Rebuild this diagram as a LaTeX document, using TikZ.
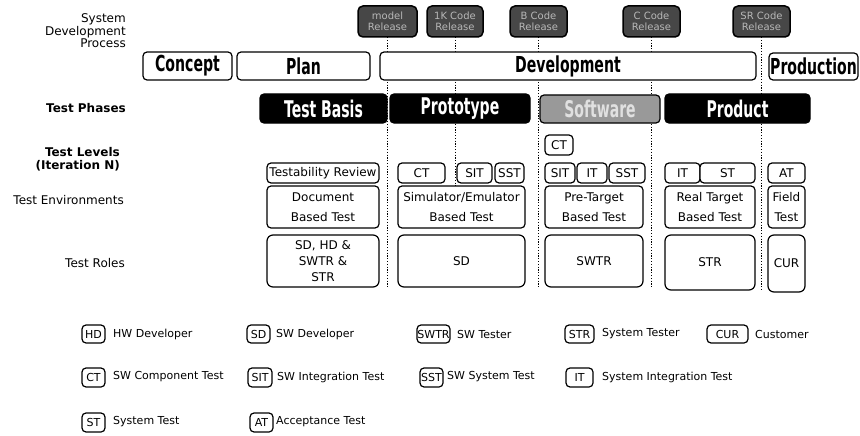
\documentclass[tikz,border=0pt]{standalone}
\usepackage{fontspec}
\setmainfont{DejaVu Sans}
\newfontfamily\condA[FakeStretch=0.64]{DejaVu Sans}
\newfontfamily\condB[FakeStretch=0.61]{DejaVu Sans}
\usetikzlibrary{calc}

% box given by its corners: style, name, x1, y1, x2, y2, text
\newcommand\boxat[7]{%
  \pgfmathsetmacro\bxw{#5-#3}\pgfmathsetmacro\bxh{#6-#4}%
  \node[#1,minimum width=\bxw pt,minimum height=\bxh pt] (#2) at ({(#3+#5)/2},{(#4+#6)/2}) {#7};}

\tikzset{
  base/.style={draw=black, line width=1.2pt, rounded corners=4pt, inner sep=0pt,
    outer sep=0pt, align=center, fill=white},
  proc/.style={base, font=\condA\bfseries\fontsize{22}{22}\selectfont},
  phase/.style={base, fill=black, text=white, font=\condB\bfseries\fontsize{23}{23}\selectfont},
  soft/.style={phase, fill=black!40, text=black!12},
  rel/.style={base, line width=1.5pt, rounded corners=5pt, fill=black!72, text=black!28,
    font=\fontsize{10}{11}\selectfont},
  lvl/.style={base, font=\fontsize{12}{13}\selectfont},
  env/.style={base, font=\fontsize{12}{20}\selectfont},
  role/.style={base, rounded corners=6pt, font=\fontsize{12}{16}\selectfont},
  legbox/.style={base, font=\fontsize{11}{12}\selectfont},
  lab/.style={anchor=east, align=right, inner sep=0pt, font=\fontsize{12}{12.5}\selectfont},
  labb/.style={lab, font=\bfseries\fontsize{12}{12.5}\selectfont},
  legtxt/.style={anchor=west, inner sep=0pt, font=\fontsize{11}{12}\selectfont},
  rline/.style={line width=1pt, dash pattern=on 1.2pt off 1.6pt}
}

\begin{document}
\begin{tikzpicture}[x=1pt, y=-1pt]
\useasboundingbox[fill=white] (0,0) rectangle (860,436);

% row captions
\node[lab]  (sdp)  at (126,31)  {System\\Development\\Process};
\node[labb] (tph)  at (126,108) {Test Phases};
\node[labb] (tlv)  at (120,159) {Test Levels\\(Iteration N)};
\node[lab]  (tenv) at (124,200) {Test Environments};
\node[lab]  (trol) at (125,263) {Test Roles};

% releases
\boxat{rel}{r1}{358}{6}{417}{37}{model\\Release}
\boxat{rel}{r2}{427}{6}{483}{37}{1K Code\\Release}
\boxat{rel}{r3}{510}{6}{567}{37}{B Code\\Release}
\boxat{rel}{r4}{623}{6}{680}{37}{C Code\\Release}
\boxat{rel}{r5}{733}{6}{790}{37}{SR Code\\Release}

% release milestones running down the chart
\coordinate (e1) at (387.5,287);
\coordinate (e2) at (455,188);
\coordinate (e3) at (538.5,287);
\coordinate (e4) at (651.5,287);
\coordinate (e5) at (761.5,291);
\draw[rline] (r1.south) -- (e1);
\draw[rline] (r2.south) -- (e2);
\draw[rline] (r3.south) -- (e3);
\draw[rline] (r4.south) -- (e4);
\draw[rline] (r5.south) -- (e5);

% system development process
\boxat{proc}{concept}{143}{52}{232}{80}{Concept}
\boxat{proc}{plan}{237}{52}{370}{80}{Plan}
\boxat{proc}{dev}{380}{52}{756}{80}{Development}
\boxat{proc}{prodn}{769}{53}{858}{80}{Production}

% test phases
\boxat{phase}{basis}{260}{94}{387}{123}{Test Basis}
\boxat{phase}{proto}{390}{94}{530}{123}{Prototype}
\boxat{soft}{softw}{540}{95}{660}{123}{Software}
\boxat{phase}{product}{665}{94}{810}{123}{Product}

% test basis column
\boxat{lvl}{tbr}{267}{163}{379}{183}{Testability Review}
\boxat{env}{tbe}{267}{186}{379}{228}{Document\\Based Test}
\boxat{role}{tbo}{267}{235}{379}{287}{SD, HD \&\\SWTR \&\\STR}

% prototype column
\boxat{lvl}{pct}{398}{163}{445}{183}{CT}
\boxat{lvl}{psit}{457}{163}{492}{183}{SIT}
\boxat{lvl}{psst}{495}{163}{524}{183}{SST}
\boxat{env}{pe}{398}{186}{525}{228}{Simulator/Emulator\\Based Test}
\boxat{role}{po}{398}{235}{525}{287}{SD}

% software column
\boxat{lvl}{sct}{545}{135}{573}{155}{CT}
\boxat{lvl}{ssit}{545}{163}{575}{183}{SIT}
\boxat{lvl}{sit}{577}{163}{607}{183}{IT}
\boxat{lvl}{ssst}{609}{163}{645}{183}{SST}
\boxat{env}{se}{545}{186}{643}{228}{Pre-Target\\Based Test}
\boxat{role}{so}{545}{235}{643}{287}{SWTR}

% product column
\boxat{lvl}{rit}{665}{163}{700}{183}{IT}
\boxat{lvl}{rst}{700}{163}{755}{183}{ST}
\boxat{env}{re}{665}{186}{755}{228}{Real Target\\Based Test}
\boxat{role}{ro}{665}{235}{755}{290}{STR}

% production column
\boxat{lvl}{nat}{768}{163}{805}{183}{AT}
\boxat{env}{ne}{768}{186}{805}{228}{Field\\Test}
\boxat{role}{no}{768}{235}{805}{292}{CUR}

% legend
\boxat{legbox}{lhd}{82}{325}{105}{343}{HD}
\node[legtxt] (lhdt) at (113,334) {HW Developer};
\boxat{legbox}{lsd}{247}{325}{270}{343}{SD}
\node[legtxt] (lsdt) at (276,334) {SW Developer};
\boxat{legbox}{lswtr}{417}{325}{450}{343}{SWTR}
\node[legtxt] (lswtrt) at (457,334) {SW Tester};
\boxat{legbox}{lstr}{565}{325}{594}{343}{STR}
\node[legtxt] (lstrt) at (602,334) {System Tester};
\boxat{legbox}{lcur}{707}{325}{748}{343}{CUR}
\node[legtxt] (lcurt) at (755,334) {Customer};

\boxat{legbox}{lct}{82}{368}{105}{387}{CT}
\node[legtxt] (lctt) at (113,377) {SW Component Test};
\boxat{legbox}{lsit}{248}{368}{272}{387}{SIT}
\node[legtxt] (lsitt) at (277,377) {SW Integration Test};
\boxat{legbox}{lsst}{420}{368}{443}{387}{SST}
\node[legtxt] (lsstt) at (447,377) {SW System Test};
\boxat{legbox}{lit}{566}{368}{593}{387}{IT}
\node[legtxt] (litt) at (602,377) {System Integration Test};

\boxat{legbox}{lst}{82}{413}{105}{432}{ST}
\node[legtxt] (lstt) at (113,422) {System Test};
\boxat{legbox}{lat}{250}{413}{273}{432}{AT}
\node[legtxt] (latt) at (276,422) {Acceptance Test};
\end{tikzpicture}
\end{document}
